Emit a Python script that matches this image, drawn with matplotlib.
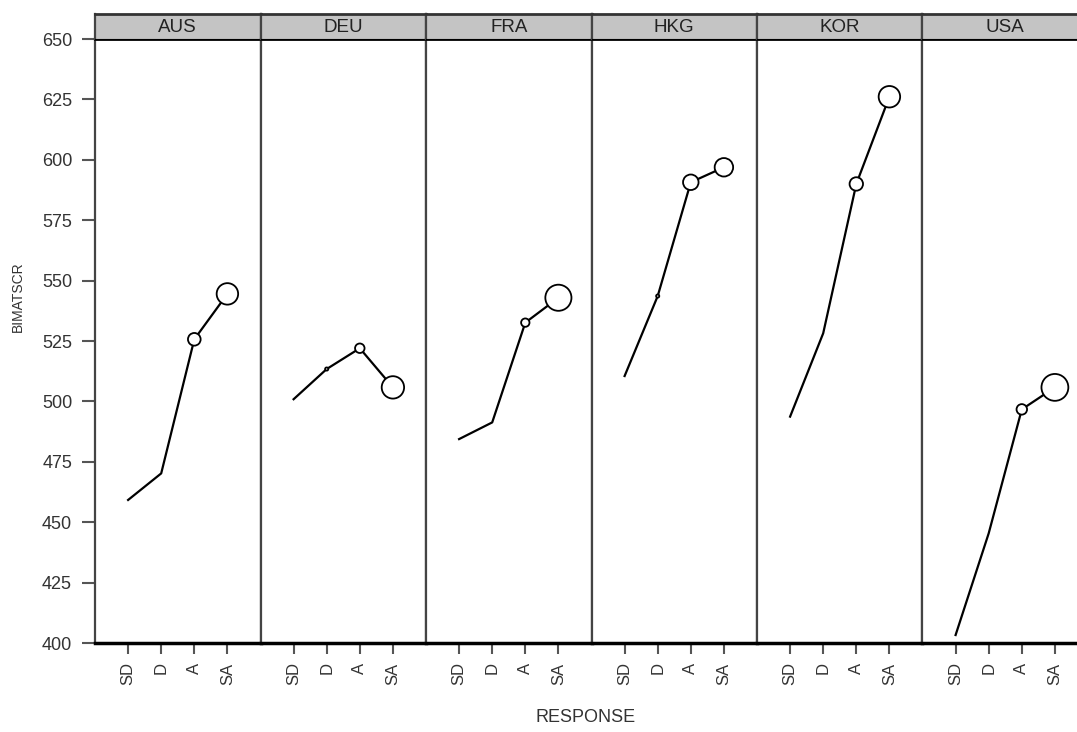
import matplotlib.pyplot as plt
import numpy as np

# data
countries = ["AUS", "DEU", "FRA", "HKG", "KOR", "USA"]
responses = ["SD", "D", "A", "SA"]

aus = [459.2, 470.2, 525.7, 544.5]
deu = [500.9, 513.4, 522.0, 505.8]
fra = [484.4, 491.3, 532.6, 542.9]
hkg = [510.5, 543.6, 590.7, 596.9]
kor = [493.7, 528.2, 590.0, 626.1]
usa = [403.3, 445.4, 496.7, 505.8]

# bubble weight (share of students) per response
aus_pct = [0, 0, 8, 23]
deu_pct = [0, 0.5, 4.5, 25]
fra_pct = [0, 0, 3.5, 34]
hkg_pct = [0, 0.5, 12, 17]
kor_pct = [0, 0, 9, 23]
usa_pct = [0, 0, 5.5, 36]

yticks = [400, 425, 450, 475, 500, 525, 550, 575, 600, 625, 650]

scores = [aus, deu, fra, hkg, kor, usa]
weights = [aus_pct, deu_pct, fra_pct, hkg_pct, kor_pct, usa_pct]

plt.rcParams["font.family"] = ["Liberation Sans", "DejaVu Sans"]

W, H = 1077, 732
fig = plt.figure(figsize=(W / 100, H / 100), dpi=100)

left_px, panel_w = 95, 165.5
top_px, bottom_px, strip_top = 39, 643, 14
x = np.arange(1, len(responses) + 1)

for i, (name, vals, pct) in enumerate(zip(countries, scores, weights)):
    x0 = (left_px + i * panel_w) / W
    ax = fig.add_axes([x0, (H - bottom_px) / H, panel_w / W,
                       (bottom_px - top_px) / H])
    ax.plot(x, vals, color="black", lw=1.6, zorder=2)
    ax.scatter(x, vals, s=np.array(pct) * 10.4, facecolor="white",
               edgecolor="black", linewidth=1.3, zorder=3)
    ax.set_xlim(0, 5)
    ax.set_ylim(400, 650)
    ax.set_xticks(x)
    ax.set_xticklabels(responses, rotation=90, fontsize=12, color="#333333")
    ax.tick_params(axis="x", length=8, width=1.5, color="#555555", pad=6)
    for side in ("left", "right"):
        ax.spines[side].set_color("#444444")
        ax.spines[side].set_linewidth(1.6)
    ax.spines["top"].set_linewidth(2)
    ax.spines["bottom"].set_linewidth(2.5)
    if i == 0:
        ax.set_yticks(yticks)
        ax.tick_params(axis="y", length=9.5, width=1.5, color="#555555",
                       labelsize=13, labelcolor="#333333", pad=7)
    else:
        ax.set_yticks([])

    strip = fig.add_axes([x0, (H - top_px) / H, panel_w / W,
                          (top_px - strip_top) / H])
    strip.set_facecolor("#c4c4c4")
    strip.set_xticks([])
    strip.set_yticks([])
    for side in ("left", "right"):
        strip.spines[side].set_color("#444444")
        strip.spines[side].set_linewidth(1.6)
    strip.spines["top"].set_linewidth(2)
    strip.spines["top"].set_color("#333333")
    strip.text(0.5, 0.45, name, ha="center", va="center", fontsize=13.5,
               color="#222222", transform=strip.transAxes)

fig.text(586 / W, 1 - 718 / H, "RESPONSE", ha="center", va="center",
         fontsize=13, color="#333333")
fig.text(18 / W, 1 - 297 / H, "BIMATSCR", ha="center", va="center",
         rotation=90, fontsize=10, color="#333333")

fig.savefig("out.png", dpi=100)
